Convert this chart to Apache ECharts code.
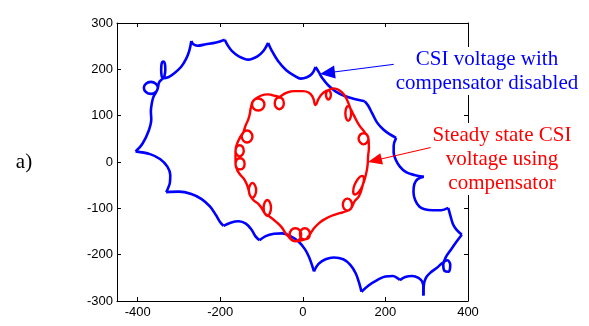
<!DOCTYPE html>
<html>
<head>
<meta charset="utf-8">
<script src="https://cdn.jsdelivr.net/npm/echarts@6/dist/echarts.min.js"></script>
<style>html,body{margin:0;padding:0;background:#fff}#chart{width:589px;height:326px}</style>
</head>
<body>
<div id="chart"></div>
<script>
//tick values
var xTicks = [-400, -200, 0, 200, 400];

//blue curve (compensator disabled): [x, y] points, one list per arc between cusps
var blueArcs = [
    [[-405, 23], [-370, 17], [-345, 6], [-328, -10], [-321, -28], [-322, -45], [-327, -58], [-331, -65]],
    [[-300, -64], [-270, -69], [-245, -80], [-225, -96], [-210, -115], [-200, -130], [-192, -138]],
    [[-175, -131], [-155, -128], [-138, -133], [-125, -145], [-115, -160], [-105, -169]],
    [[-90, -160], [-70, -155], [-50, -154], [-30, -160], [-10, -172], [5, -188], [15, -205], [22, -222], [27, -236]],
    [[38, -220], [55, -210], [75, -206], [98, -210], [115, -222], [128, -240], [136, -260], [142, -280]],
    [[160, -266], [180, -255], [200, -247], [218, -246], [230, -251], [235, -255]],
    [[248, -248], [265, -246], [280, -250], [289, -258], [292, -272], [292, -288]],
    [[293, -266], [298, -250], [310, -238], [325, -228], [338, -218], [350, -212], [357, -222], [353, -237],
        [343, -235], [340, -222], [346, -206], [358, -190], [372, -172], [385, -157]],
    [[372, -146], [364, -135], [358, -118], [354, -105], [352, -99]],
    [[335, -104], [315, -104], [295, -102], [282, -96], [272, -82], [268, -65], [270, -48], [278, -37], [293, -32]],
    [[270, -28], [250, -22], [235, -10], [225, 5], [220, 20], [220, 35], [226, 52]],
    [[210, 60], [195, 70], [180, 85], [168, 105], [158, 122], [150, 131]],
    [[125, 136], [100, 143], [80, 152], [62, 165], [48, 180], [38, 195], [31, 205]],
    [[22, 190], [10, 183], [-5, 180], [-20, 186], [-40, 198], [-60, 218], [-75, 240], [-84, 257]],
    [[-95, 240], [-110, 228], [-132, 221], [-155, 228], [-172, 240], [-182, 252], [-189, 264]],
    [[-210, 258], [-235, 254], [-255, 251], [-265, 254], [-270, 261]],
    [[-275, 240], [-283, 222], [-295, 205], [-312, 191], [-326, 183],
        [-338, 181], [-342, 186], [-343, 199], [-342, 212], [-338, 217], [-334, 212], [-333, 199], [-335, 186], [-338, 181],
        [-348, 172],
        [-351, 160], [-356, 151], [-368, 147], [-380, 151], [-385, 160], [-380, 169], [-368, 173], [-356, 169], [-351, 160],
        [-362, 140], [-366, 125], [-368, 110], [-367, 92], [-373, 68], [-388, 40], [-405, 23]]
];

//red curve (steady state with compensator): [x, y] points
var redPoints = [
    [-128, 105], [-125, 120],
    [-119, 133], [-108, 137], [-97, 133], [-93, 124], [-97, 115], [-108, 111], [-119, 115], [-123, 124], [-119, 133],
    [-102, 143], [-84, 146], [-68, 143],
    [-57, 140], [-49, 136], [-46, 127], [-49, 118], [-57, 114], [-65, 118], [-68, 127], [-65, 136], [-57, 140],
    [-40, 149], [-20, 153], [0, 153], [14, 150], [24, 140], [31, 123], [38, 136], [48, 148],
    [62, 155], [66, 152], [68, 145], [66, 138], [62, 135], [58, 138], [56, 145], [58, 152], [62, 155],
    [75, 159], [88, 155], [99, 146], [108, 132],
    [115, 116], [117, 105], [115, 94], [110, 89], [105, 94], [103, 105], [105, 116], [110, 121], [115, 116],
    [124, 100], [136, 80], [150, 64],
    [159, 50], [155, 42], [147, 38], [139, 42], [135, 50], [139, 59], [147, 62], [155, 59], [159, 50],
    [160, 32], [158, 12], [157, -5], [154, -22],
    [145, -50], [136, -64], [127, -70], [122, -64], [125, -50], [134, -36], [143, -30], [148, -36], [145, -50],
    [136, -74], [126, -84],
    [116, -101], [108, -105], [100, -101], [97, -92], [100, -83], [108, -79], [116, -83], [119, -92], [116, -101],
    [98, -108], [84, -112], [70, -116], [56, -122], [42, -130], [28, -142], [14, -160],
    [5, -167], [-4, -164], [-7, -155], [-4, -147], [5, -143], [14, -147], [17, -155], [14, -164], [5, -167],
    [-18, -171], [-28, -167], [-32, -157], [-28, -147], [-18, -143], [-8, -147], [-4, -157], [-8, -167], [-18, -171],
    [-38, -158], [-52, -140], [-66, -128], [-80, -118],
    [-92, -111], [-95, -99], [-92, -87], [-86, -82], [-80, -87], [-77, -99], [-80, -111], [-86, -116], [-92, -111],
    [-106, -92], [-122, -80],
    [-131, -61], [-128, -50], [-122, -45], [-116, -50], [-113, -61], [-116, -72], [-122, -77], [-128, -72], [-131, -61],
    [-140, -40], [-156, -22],
    [-163, -4], [-160, 5], [-152, 8], [-144, 5], [-141, -4], [-144, -13], [-152, -16], [-160, -13], [-163, -4],
    [-163, 24], [-160, 33], [-153, 36], [-146, 33], [-143, 24], [-146, 16], [-153, 12], [-160, 16], [-163, 24],
    [-158, 42],
    [-144, 64], [-135, 68], [-126, 64], [-122, 55], [-126, 46], [-135, 42], [-144, 46], [-148, 55], [-144, 64],
    [-138, 80], [-132, 92], [-128, 105]
];

var myChart = echarts.init(document.getElementById('chart'));

var series = [];
var prev = null;
for (var a = 0; a < blueArcs.length; a++) {
    var pts = blueArcs[a].slice();
    if (prev) pts.unshift(prev);
    prev = pts[pts.length - 1];
    series.push({
        type: 'line',
        data: pts,
        smooth: 0.35,
        symbol: 'none',
        lineStyle: {color: '#0000ff', width: 2.6},
        z: 2
    });
}
series.push({
    type: 'line',
    data: redPoints,
    smooth: 0.5,
    symbol: 'none',
    lineStyle: {color: '#ff0000', width: 2.4},
    z: 3
});

var tickStyle = {show: true, inside: true, length: 4, lineStyle: {color: '#000'}};
var lineStyle = {show: true, onZero: false, lineStyle: {color: '#000', width: 1}};
var labelFont = {color: '#000', fontFamily: 'Liberation Sans', fontSize: 13};

var option = {
    animation: false,
    grid: {left: 117, top: 23, width: 351, height: 278},
    xAxis: [{
        type: 'value', min: -450, max: 400,
        axisLine: lineStyle,
        axisTick: Object.assign({customValues: xTicks}, tickStyle),
        axisLabel: Object.assign({customValues: xTicks, margin: 5}, labelFont),
        splitLine: {show: false}
    }, {
        type: 'value', position: 'top', min: -450, max: 400,
        axisLine: lineStyle,
        axisTick: Object.assign({customValues: xTicks}, tickStyle),
        axisLabel: {show: false},
        splitLine: {show: false}
    }],
    yAxis: [{
        type: 'value', min: -300, max: 300, interval: 100,
        axisLine: lineStyle,
        axisTick: tickStyle,
        axisLabel: Object.assign({margin: 4}, labelFont),
        splitLine: {show: false}
    }, {
        type: 'value', position: 'right', min: -300, max: 300, interval: 100,
        axisLine: lineStyle,
        axisTick: tickStyle,
        axisLabel: {show: false},
        splitLine: {show: false}
    }],
    series: series,
    graphic: [
        {type: 'text', z: 100, style: {text: 'a)', x: 24, y: 162, align: 'center', verticalAlign: 'middle',
            font: '21px "Liberation Serif"', fill: '#000'}},
        {type: 'line', z: 100, shape: {x1: 404, y1: 63, x2: 334, y2: 72}, style: {stroke: '#0000ff', lineWidth: 1.2}},
        {type: 'polygon', z: 100, shape: {points: [[320, 74], [335.7, 78.5], [334.1, 65.6]]}, style: {fill: '#0000ff'}},
        {type: 'line', z: 100, shape: {x1: 433, y1: 147, x2: 381, y2: 159}, style: {stroke: '#ff0000', lineWidth: 1.2}},
        {type: 'polygon', z: 100, shape: {points: [[368, 162], [383, 164.5], [380.3, 153.2]]}, style: {fill: '#ff0000'}},
        {type: 'text', z: 100, style: {text: 'CSI voltage with\ncompensator disabled', x: 487, y: 71,
            align: 'center', verticalAlign: 'middle', lineHeight: 24,
            font: '21px "Liberation Serif"', fill: '#0000ff', backgroundColor: '#fff', padding: [0, 2]}},
        {type: 'text', z: 100, style: {text: 'Steady state CSI\nvoltage using\ncompensator', x: 502, y: 159,
            align: 'center', verticalAlign: 'middle', lineHeight: 24,
            font: '21px "Liberation Serif"', fill: '#ff0000', backgroundColor: '#fff', padding: [0, 2]}}
    ]
};

myChart.setOption(option);
</script>
</body>
</html>
